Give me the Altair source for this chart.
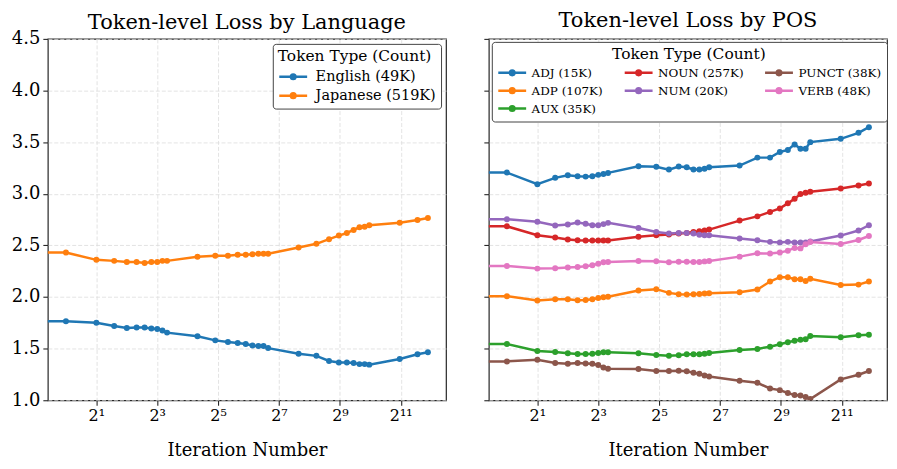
import altair as alt
import pandas as pd

# ---------------- data ----------------
iterations = [0, 1, 2, 3, 4, 5, 6, 7, 8, 9, 10, 20, 30, 40, 50, 60, 70, 80, 90, 100,
              200, 300, 400, 500, 600, 700, 800, 900, 1000, 2000, 3000, 3800]

lang_labels = ["English (49K)", "Japanese (519K)"]
english = [1.765, 1.765, 1.75, 1.72, 1.70, 1.705, 1.705, 1.695, 1.69, 1.675, 1.655,
           1.62, 1.58, 1.565, 1.555, 1.545, 1.53, 1.525, 1.525, 1.505,
           1.45, 1.43, 1.38, 1.365, 1.365, 1.36, 1.35, 1.35, 1.345, 1.40, 1.445, 1.465]
japanese = [2.43, 2.43, 2.36, 2.35, 2.34, 2.34, 2.33, 2.34, 2.34, 2.35, 2.35,
            2.39, 2.40, 2.40, 2.41, 2.41, 2.415, 2.42, 2.42, 2.42,
            2.48, 2.515, 2.56, 2.595, 2.62, 2.65, 2.675, 2.68, 2.695, 2.72, 2.745, 2.765]

pos_labels = ["ADJ (15K)", "ADP (107K)", "AUX (35K)", "NOUN (257K)", "NUM (20K)",
              "PUNCT (38K)", "VERB (48K)"]
adj = [3.205, 3.205, 3.093, 3.154, 3.18, 3.17, 3.166, 3.17, 3.183, 3.192, 3.202,
       3.266, 3.261, 3.234, 3.264, 3.256, 3.236, 3.236, 3.242, 3.256,
       3.273, 3.35, 3.35, 3.405, 3.424, 3.478, 3.436, 3.436, 3.5, 3.532, 3.59, 3.645]
adp = [2.008, 2.008, 1.966, 1.979, 1.979, 1.969, 1.972, 1.979, 1.991, 1.998, 2.002,
       2.063, 2.076, 2.04, 2.027, 2.024, 2.027, 2.03, 2.033, 2.037,
       2.046, 2.072, 2.15, 2.192, 2.192, 2.172, 2.172, 2.156, 2.176, 2.117, 2.12, 2.15]
aux = [1.545, 1.545, 1.477, 1.468, 1.455, 1.448, 1.448, 1.451, 1.458, 1.465, 1.465,
       1.455, 1.439, 1.432, 1.435, 1.445, 1.445, 1.445, 1.451, 1.458,
       1.487, 1.497, 1.519, 1.542, 1.561, 1.577, 1.587, 1.59, 1.622, 1.61, 1.629, 1.635]
noun = [2.685, 2.685, 2.598, 2.576, 2.556, 2.549, 2.547, 2.547, 2.547, 2.547, 2.547,
        2.583, 2.598, 2.605, 2.615, 2.619, 2.629, 2.637, 2.644, 2.653,
        2.74, 2.781, 2.824, 2.858, 2.907, 2.951, 2.997, 3.009, 3.019, 3.051, 3.08, 3.099]
num = [2.753, 2.753, 2.728, 2.692, 2.702, 2.721, 2.709, 2.695, 2.695, 2.706, 2.718,
       2.669, 2.629, 2.615, 2.619, 2.619, 2.615, 2.602, 2.599, 2.599,
       2.566, 2.549, 2.534, 2.529, 2.534, 2.529, 2.527, 2.529, 2.537, 2.595, 2.644, 2.695]
punct = [1.376, 1.376, 1.392, 1.36, 1.353, 1.36, 1.357, 1.353, 1.341, 1.318, 1.305,
         1.302, 1.283, 1.283, 1.286, 1.28, 1.266, 1.257, 1.24, 1.231,
         1.189, 1.169, 1.114, 1.098, 1.07, 1.05, 1.047, 1.031, 1.012, 1.202, 1.247, 1.283]
verb = [2.30, 2.30, 2.275, 2.278, 2.285, 2.291, 2.298, 2.307, 2.323, 2.336, 2.339,
        2.349, 2.346, 2.336, 2.342, 2.342, 2.339, 2.339, 2.345, 2.349,
        2.391, 2.423, 2.421, 2.43, 2.449, 2.475, 2.471, 2.51, 2.533, 2.513, 2.552, 2.591]

lang_colors = ["#1f77b4", "#ff7f0e"]
pos_colors = ["#1f77b4", "#ff7f0e", "#2ca02c", "#d62728", "#9467bd", "#8c564b", "#e377c2"]

x_ticks = [2, 8, 32, 128, 512, 2048]
y_ticks = [1.0, 1.5, 2.0, 2.5, 3.0, 3.5, 4.0, 4.5]


def long_df(labels, series):
    rows = []
    for lab, vals in zip(labels, series):
        for it, v in zip(iterations, vals):
            # iteration 0 sits off the left edge on a log axis (clipped, as in matplotlib)
            rows.append({"it": it if it > 0 else 1e-3, "loss": v, "series": lab})
    return pd.DataFrame(rows)


df_lang = long_df(lang_labels, [english, japanese])
df_pos = long_df(pos_labels, [adj, adp, aux, noun, num, punct, verb])

# legend is laid out column-major (3 rows); an empty slot gives the 3/2/2 column split
BLANK = " "
pos_domain = pos_labels[:5] + [BLANK] + pos_labels[5:]
pos_range = pos_colors[:5] + ["transparent"] + pos_colors[5:]

FONT = "DejaVu Serif"
label_expr = ("datum.value == 2 ? '2¹' : datum.value == 8 ? '2³' : datum.value == 32 ? '2⁵' : "
              "datum.value == 128 ? '2⁷' : datum.value == 512 ? '2⁹' : '2¹¹'")

# legend glyph: a short line with a dot in the middle (path units: 1 = 7px)
r1, r2 = 0.33, 0.13
sym_path = (f"M-2,0H2M{r1},0A{r1},{r1},0,1,1,-{r1},0A{r1},{r1},0,1,1,{r1},0"
            f"M{r2},0A{r2},{r2},0,1,1,-{r2},0A{r2},{r2},0,1,1,{r2},0")


def panel(df, title, domain, rng, legend, show_labels, title_offset):
    xenc = alt.X("it:Q",
                 scale=alt.Scale(type="log", base=2, domain=[0.662, 5740], nice=False),
                 axis=alt.Axis(values=x_ticks, labelExpr=label_expr, title="Iteration Number",
                               labelFontSize=16, titleFontSize=18, titleFontWeight="normal",
                               labelPadding=2, titlePadding=19, tickSize=5,
                               grid=True, domain=False, labelFlush=False))
    yenc = alt.Y("loss:Q",
                 scale=alt.Scale(domain=[1.0, 4.5], nice=False, zero=False),
                 axis=alt.Axis(values=y_ticks, format=".1f", labels=show_labels, title=None,
                               labelFontSize=18, labelPadding=3, tickSize=5,
                               grid=True, domain=False))
    line = alt.Chart(df).mark_line(strokeWidth=2.5, clip=True).encode(
        x=xenc, y=yenc,
        color=alt.Color("series:N", scale=alt.Scale(domain=domain, range=rng), legend=legend),
    )
    pts = alt.Chart(df).mark_circle(size=36, opacity=1, clip=True).encode(
        x=xenc, y=yenc,
        fill=alt.Fill("series:N", scale=alt.Scale(domain=domain, range=rng), legend=None),
    )
    return alt.layer(line, pts).properties(
        width=400, height=363,
        title=alt.TitleParams(title, fontSize=21, font=FONT, fontWeight="normal",
                              offset=title_offset, anchor="middle"))


common_legend = dict(title="Token Type (Count)", titleFontSize=15.5, titleFontWeight="normal",
                     symbolType=sym_path, symbolSize=196, symbolStrokeWidth=2.5,
                     symbolOffset=7, strokeColor="#444444", fillColor="white",
                     cornerRadius=3, padding=5)
left_legend = alt.Legend(orient="top-right", offset=5, labelFontSize=14.5, rowPadding=3,
                         labelOffset=14, titlePadding=4, **common_legend)
right_legend = alt.Legend(orient="top-left", offset=3, columns=3, columnPadding=16,
                          titleAnchor="middle", labelFontSize=12, rowPadding=2,
                          labelOffset=11, titlePadding=2, **common_legend)

left = panel(df_lang, "Token-level Loss by Language", lang_labels, lang_colors,
             left_legend, True, -3)
right = panel(df_pos, "Token-level Loss by POS", pos_domain, pos_range, right_legend,
              False, 7)

chart = alt.hconcat(left, right, spacing=35).resolve_scale(
    color="independent", fill="independent"
).resolve_legend(color="independent").properties(
    padding={"left": 2, "top": 0, "right": 0, "bottom": 0}
).configure(font=FONT).configure_view(
    stroke="#262626", strokeWidth=1.2
).configure_axis(
    labelFont=FONT, titleFont=FONT, labelColor="black", titleColor="black",
    tickColor="#262626", tickWidth=1.1,
    gridColor="#dcdcdc", gridDash=[4, 2], gridWidth=0.8,
).configure_legend(
    labelFont=FONT, titleFont=FONT, labelColor="black", titleColor="black"
)

chart.save("out.html", embed_options={"renderer": "svg", "actions": False})
